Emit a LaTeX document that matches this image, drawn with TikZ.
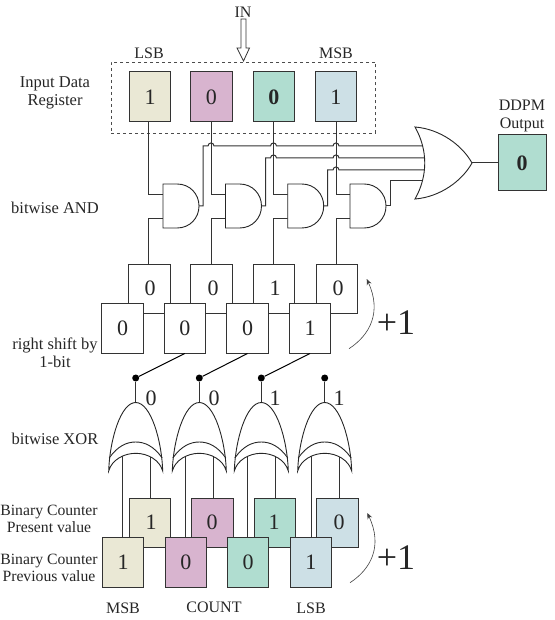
\documentclass[tikz,border=0pt]{standalone}
\usepackage{fontspec}
\setmainfont{Liberation Serif}
\usetikzlibrary{arrows.meta}
\definecolor{cbeige}{HTML}{EAE8D5}
\definecolor{cpink}{HTML}{D8B4CF}
\definecolor{cgreen}{HTML}{B0DDD0}
\definecolor{cblue}{HTML}{CDE0E6}
\definecolor{wirec}{HTML}{333333}
\newcommand{\fsz}[1]{\fontsize{#1}{#1}\selectfont}
\tikzset{
  wire/.style={draw=wirec,line width=1pt},
  gate/.style={draw=black!85,line width=0.9pt,fill=white},
  cell/.style={draw=wirec,line width=1pt,minimum width=41.5pt,minimum height=50pt,inner sep=0pt,text=black!85,font=\fsz{22}},
  lbl/.style={inner sep=0pt,align=center,text=black!85,font=\fsz{16.5}},
  cntlbl/.style={inner sep=0pt,align=center,text=black!85,font=\fsz{15.7}},
  smalltext/.style={inner sep=0pt,text=black!85,font=\fsz{16}},
  digit/.style={inner sep=0pt,text=black!85,font=\fsz{22}},
  plusone/.style={inner sep=0pt,text=black!85,font=\fsz{36}},
  dotn/.style={circle,fill=black,minimum size=7pt,inner sep=0pt},
  curvearrow/.style={draw=black!75,line width=0.6pt,-{Stealth[length=6pt,width=5pt]}}
}
\begin{document}
\begin{tikzpicture}[x=1pt,y=-1pt]
\useasboundingbox (0,0) rectangle (554,620);
% input register
\node[draw=black!70,dashed,line width=0.9pt,minimum width=264.5pt,minimum height=71pt,inner sep=0pt] (reg) at (243.25,97.5) {};
\node[cell,fill=cbeige] (r1) at (150,97) {1};
\node[cell,fill=cpink] (r2) at (211.4,97) {0};
\node[cell,fill=cgreen,font=\fsz{22}\bfseries] (r3) at (273.8,97) {0};
\node[cell,fill=cblue] (r4) at (335.8,97) {1};
\node[smalltext] (in) at (243,12) {IN};
\node[smalltext] (lsb1) at (149,53) {LSB};
\node[smalltext] (msb1) at (336,53) {MSB};
\draw[draw=black!80,line width=0.8pt,fill=white] (241,19) -- (246,19) -- (246,48) -- (249.5,48) -- (243.5,61) -- (237,48) -- (241,48) -- cycle;
% left labels
\node[lbl] (t1) at (55,93) {Input Data\\[1pt]Register};
\node[lbl] (t2) at (55,208) {bitwise AND};
\node[lbl] (t3) at (55,353) {right shift by\\[1pt]1-bit};
\node[lbl] (t4) at (55,439) {bitwise XOR};
\node[cntlbl] (t5) at (49,519) {Binary Counter\\[2pt]Present value};
\node[cntlbl] (t6) at (49,568) {Binary Counter\\[2pt]Previous value};
\node[smalltext] (t7) at (123,608) {MSB};
\node[smalltext] (t8) at (214,607) {COUNT};
\node[smalltext] (t9) at (311,608) {LSB};
% shift register, two rows
\node[cell,fill=white,minimum height=49pt] (si1) at (149.3,288.5) {};
\node[cell,fill=white,minimum height=49pt] (si2) at (211.6,288.5) {};
\node[cell,fill=white,minimum height=49pt] (si3) at (274.1,288.5) {};
\node[cell,fill=white,minimum height=49pt] (si4) at (336.8,288.5) {};
\node[digit] at (150,288) {0};
\node[digit] at (213,288) {0};
\node[digit] at (275,288) {1};
\node[digit] at (338,288) {0};
\node[cell,fill=white] (so1) at (122.5,328) {0};
\node[cell,fill=white] (so2) at (184.8,328) {0};
\node[cell,fill=white] (so3) at (247.5,328) {0};
\node[cell,fill=white] (so4) at (310,328) {1};
% AND gates
\foreach \i/\v/\g in {1/148/163,2/211/225.5,3/273.5/287.7,4/336/350}{
  \coordinate (v\i) at (\v,195);
  \draw[wire] (r\i.south -| v\i) -- (v\i) -- (\g,195);
  \draw[wire] (si\i.north -| v\i) -- (\v,218) -- (\g,218);
  \draw[gate] (\g,184) -- (\g+14,184) .. controls (\g+27,184) and (\g+36,194) .. (\g+36,206) .. controls (\g+36,218) and (\g+27,228) .. (\g+14,228) -- (\g,228) -- cycle;
  \coordinate (a\i) at (\g+36,206);
}
% OR gate
\draw[wire] (a1) -- ++(4,0) -- ++(0,-60) -- (208,146) .. controls (208,142) and (214,142) .. (214,146) -- (270.5,146) .. controls (270.5,142) and (276.5,142) .. (276.5,146) -- (333,146) .. controls (333,142) and (339,142) .. (339,146) -- (424,146);
\draw[wire] (a2) -- ++(4,0) -- ++(0,-48) -- (270.5,158) .. controls (270.5,154) and (276.5,154) .. (276.5,158) -- (333,158) .. controls (333,154) and (339,154) .. (339,158) -- (426,158);
\draw[wire] (a3) -- ++(4,0) -- ++(0,-36) -- (333,170) .. controls (333,166) and (339,166) .. (339,170) -- (426,170);
\draw[wire] (a4) -- ++(4,0) -- ++(0,-25) -- (424,181);
\node[cell,fill=cgreen,minimum width=47.7pt,minimum height=56pt,font=\fsz{22}\bfseries] (out) at (522.2,163) {0};
\coordinate (ortip) at (472,163);
\draw[wire] (ortip) -- (out.west);
\draw[gate] (415,127) .. controls (440,129) and (462,145) .. (ortip) .. controls (462,181) and (440,197) .. (415,199) .. controls (428,176) and (428,150) .. (415,127) -- cycle;
\node[smalltext] (d1) at (522,105) {DDPM};
\node[smalltext] (d2) at (522,125) {Output};
% counter boxes
\node[cell,fill=cbeige,minimum height=49pt] (p1) at (149.8,522.5) {};
\node[cell,fill=cpink,minimum height=49pt] (p2) at (212.4,522.5) {};
\node[cell,fill=cgreen,minimum height=49pt] (p3) at (275,522.5) {};
\node[cell,fill=cblue,minimum height=49pt] (p4) at (337.5,522.5) {};
\node[digit] at (151,522) {1};
\node[digit] at (212,522) {0};
\node[digit] at (274,522) {1};
\node[digit] at (339,522) {0};
\node[cell,fill=cbeige] (q1) at (123,562) {1};
\node[cell,fill=cpink] (q2) at (185.8,562) {0};
\node[cell,fill=cgreen] (q3) at (248,562) {0};
\node[cell,fill=cblue] (q4) at (310.8,562) {1};
% XOR gates
\foreach \i/\c in {1/135.7,2/199.3,3/261.3,4/324.7}{
  \node[dotn] (dot\i) at (\c,378) {};
  \coordinate (x\i) at (\c,402.5);
  \draw[wire] (dot\i) -- (x\i);
  \draw[wire] (\c-13.5,450) -- (\c-13.5,537);
  \draw[wire] (\c+14.3,450) -- (\c+14.3,498);
  \draw[gate] (\c-27,471) .. controls (\c-26,440) and (\c-15,402.5) .. (x\i) .. controls (\c+15,402.5) and (\c+26,440) .. (\c+27,471) .. controls (\c+24,460) and (\c+12,453.3) .. (\c,453.3) .. controls (\c-12,453.3) and (\c-24,460) .. (\c-27,471) -- cycle;
  \draw[gate,fill=none] (\c-26.5,458) .. controls (\c-18,446) and (\c-9,442) .. (\c,442) .. controls (\c+9,442) and (\c+18,446) .. (\c+26.5,458);
}
\draw[wire,draw=black] (so2.south) -- (dot1);
\draw[wire,draw=black] (so3.south) -- (dot2);
\draw[wire,draw=black] (so4.south) -- (dot3);
\node[digit] at (151,398) {0};
\node[digit] at (214,398) {0};
\node[digit] at (275,398) {1};
\node[digit] at (339,398) {1};
% +1
\coordinate (b1) at (349,348.7);
\coordinate (b2) at (366.7,279);
\coordinate (c1) at (350,582.7);
\coordinate (c2) at (367.3,513);
\draw[curvearrow] (b1) .. controls (370,335) and (382,312) .. (b2);
\draw[curvearrow] (c1) .. controls (371,569) and (383,546) .. (c2);
\node[plusone] (p1t) at (396,323) {+1};
\node[plusone] (p2t) at (396,558) {+1};
\end{tikzpicture}
\end{document}
